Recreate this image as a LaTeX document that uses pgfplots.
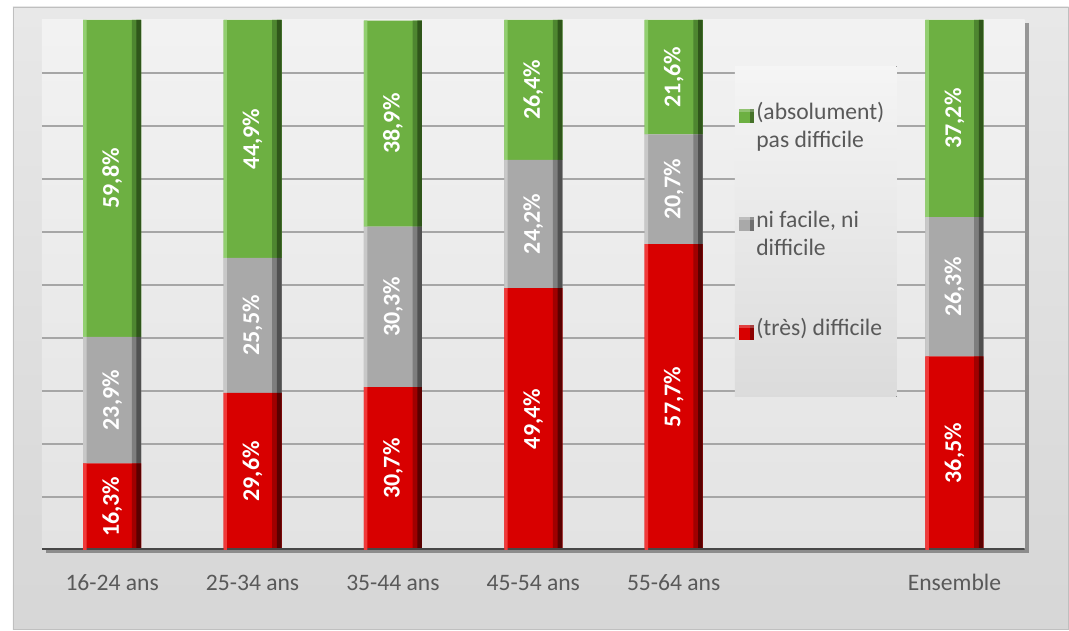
\documentclass[border=0pt]{standalone}
\usepackage{pgfplots}
\pgfplotsset{compat=1.18}
\usepackage{pgfplotstable}
\usepackage{fontspec}
\setmainfont{Carlito}
\usetikzlibrary{shadows}
\definecolor{txt}{HTML}{595959}
\definecolor{gridc}{HTML}{A6A6A6}
\definecolor{rL}{HTML}{F03A3A}
\definecolor{rM}{HTML}{D80000}
\definecolor{rK}{HTML}{A00000}
\definecolor{rD}{HTML}{5A0000}
\definecolor{gL}{HTML}{92CF70}
\definecolor{gM}{HTML}{6DB042}
\definecolor{gK}{HTML}{4E8630}
\definecolor{gD}{HTML}{2F561A}
\definecolor{yL}{HTML}{C8C8C8}
\definecolor{yM}{HTML}{A9A9A9}
\definecolor{yK}{HTML}{7E7E7E}
\definecolor{yD}{HTML}{505050}
\pgfplotstableread{
x red gray green
0 16.3 23.9 59.8
1 29.6 25.5 44.9
2 30.7 30.3 38.9
3 49.4 24.2 26.4
4 57.7 20.7 21.6
6 36.5 26.3 37.2
}\data
\pgfplotsset{
  baseax/.style={at={(0pt,0pt)}, anchor=south west,
    scale only axis, width=737.25pt, height=397.5pt,
    xmin=-0.5, xmax=6.5, ymin=0, ymax=100, ybar stacked},
  overlay/.style={baseax, hide axis},
}
\begin{document}
\begin{tikzpicture}
% full image background
\fill[white] (-31.5pt,-60pt) rectangle (770.25pt,412.5pt);
% outer panel
\shade[top color=white!91!black, bottom color=white!84!black, draw=white!75!black, line width=0.6pt]
  (-21.75pt,-60pt) rectangle (770.25pt,407.25pt);
% plot area with drop shadow
\fill[top color=white!95!black, bottom color=white!89!black,
  drop shadow={shadow xshift=3pt, shadow yshift=-2.5pt, opacity=0.35, fill=black}]
  (0pt,0pt) rectangle (737.25pt,397.5pt);
\begin{axis}[
  baseax, bar width=43.5pt,
  axis line style={draw=none},
  ytick={10,20,...,90}, yticklabels={},
  ymajorgrids, grid style={gridc, line width=1.1pt},
  xtick={0,1,2,3,4,6},
  xticklabels={16-24 ans,25-34 ans,35-44 ans,45-54 ans,55-64 ans,Ensemble},
  major tick length=0pt,
  xticklabel style={font=\fontsize{17.7}{20}\selectfont, text=txt, anchor=base, yshift=-30.5pt},
  visualization depends on=rawy \as \rawy,
  nodes near coords={\pgfmathprintnumber[assume math mode=true,fixed,fixed zerofill,precision=1,use comma]{\rawy}\%},
  every node near coord/.append style={rotate=90, anchor=center,
     text=white, font=\fontsize{18}{20}\selectfont\bfseries},
  reverse legend,
  legend style={
    at={(rel axis cs:0.705,0.913)}, anchor=north west,
    draw=none, fill=none,
    inner xsep=3pt, inner ysep=25pt,
    font=\fontsize{17.7}{21}\selectfont, text=txt,
    cells={align=left, inner sep=2pt},
    row sep=42pt,
  },
  legend cell align=left,
  legend image code/.code={
    \path (0pt,-13pt) (11pt,13pt);
    \fill[#1] (0pt,2pt) rectangle (11pt,13pt);
    \fill[black, opacity=0.35] (8pt,2pt) rectangle (11pt,13pt);
    \fill[white, opacity=0.25] (0pt,10.5pt) rectangle (11pt,13pt);
  },
]
\fill[top color=white!96!black, bottom color=white!86!black]
  (rel axis cs:0.705,0.913) rectangle (rel axis cs:0.8698,0.2887);
\addplot[fill=rM, draw=none] table[x=x, y=red] {\data};
\addplot[fill=yM, draw=none] table[x=x, y=gray] {\data};
\addplot[fill=gM, draw=none] table[x=x, y=green] {\data};
\legend{{(très) difficile\\\strut}, {ni facile, ni\\difficile}, {(absolument)\\pas difficile}}
\end{axis}
% dark right edge (medium)
\begin{axis}[overlay, bar width=7pt, bar shift=18.25pt]
\addplot[fill=rK, draw=none] table[x=x, y=red] {\data};
\addplot[fill=yK, draw=none] table[x=x, y=gray] {\data};
\addplot[fill=gK, draw=none] table[x=x, y=green] {\data};
\end{axis}
% dark right edge (darkest)
\begin{axis}[overlay, bar width=3.5pt, bar shift=20pt]
\addplot[fill=rD, draw=none] table[x=x, y=red] {\data};
\addplot[fill=yD, draw=none] table[x=x, y=gray] {\data};
\addplot[fill=gD, draw=none] table[x=x, y=green] {\data};
\end{axis}
% light left edge
\begin{axis}[overlay, bar width=2.5pt, bar shift=-20.5pt]
\addplot[fill=rL, draw=none] table[x=x, y=red] {\data};
\addplot[fill=yL, draw=none] table[x=x, y=gray] {\data};
\addplot[fill=gL, draw=none] table[x=x, y=green] {\data};
\draw[line width=2.6pt, color=black!72] (rel axis cs:0,0) -- (rel axis cs:1,0);
\end{axis}
\end{tikzpicture}
\end{document}
